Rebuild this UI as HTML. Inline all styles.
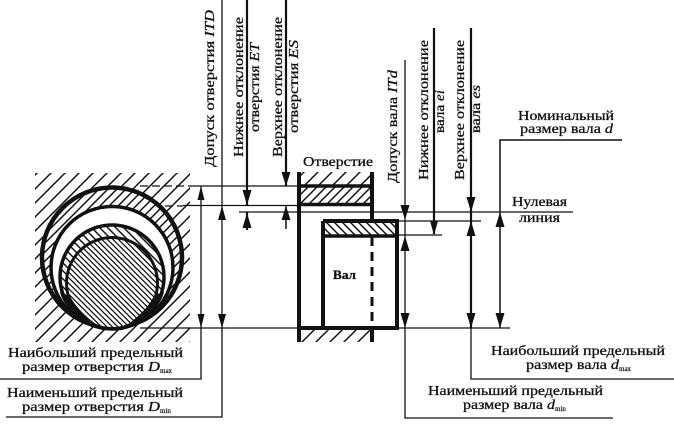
<!DOCTYPE html>
<html>
<head>
<meta charset="utf-8">
<style>
html,body{margin:0;padding:0;background:#fff;width:674px;height:425px;overflow:hidden}
svg{display:block}
text{font-family:"Liberation Serif","DejaVu Serif",serif;font-size:14px;fill:#111;stroke:#111;stroke-width:.3}
.i{font-style:italic}
.s{font-size:7px;stroke-width:.2}
</style>
</head>
<body>
<svg width="674" height="425" viewBox="0 0 674 425" xmlns="http://www.w3.org/2000/svg">
<defs>
<pattern id="h1" width="14" height="14" patternUnits="userSpaceOnUse"><path d="M0 14L14 0M-2 2L2 -2M12 16L16 12" stroke="#111" stroke-width="1.500"/></pattern>
<pattern id="h2" width="9" height="9" patternUnits="userSpaceOnUse"><path d="M0 9L9 0M-2 2L2 -2M7 11L11 7" stroke="#111" stroke-width="1.500"/></pattern>
<pattern id="b1" width="8" height="8" patternUnits="userSpaceOnUse"><path d="M0 0L8 8M-2 6L2 10M6 -2L10 2" stroke="#111" stroke-width="1.500"/></pattern>
<pattern id="b2" width="5.500" height="5.500" patternUnits="userSpaceOnUse"><path d="M0 0L5.500 5.500M-2 3.500L2 7.500M3.500 -2L7.500 2" stroke="#111" stroke-width="1.300"/></pattern>
</defs>

<!-- left circles -->
<rect x="35" y="173" width="155" height="169" fill="url(#h1)"/>
<circle cx="112" cy="257.5" r="70" fill="#fff"/>
<circle cx="112" cy="257.5" r="70" fill="url(#h2)" stroke="#111" stroke-width="4.500"/>
<circle cx="112" cy="267.5" r="61" fill="#fff" stroke="#111" stroke-width="3.500"/>
<circle cx="112" cy="277" r="52" fill="#fff"/>
<circle cx="112" cy="277" r="52" fill="url(#b1)" stroke="#111" stroke-width="3.500"/>
<circle cx="112" cy="283" r="45.5" fill="#fff"/>
<circle cx="112" cy="283" r="45.5" fill="url(#b2)" stroke="#111" stroke-width="3"/>
<path d="M60 292Q64 312 100 327Q78 312 70 296ZM164 292Q160 312 124 327Q146 312 154 296Z" fill="#111"/>

<!-- hole and shaft section -->
<rect x="299" y="172" width="73" height="170" fill="#fff"/>
<rect x="299" y="172" width="73" height="14" fill="url(#h1)"/>
<rect x="299" y="186" width="73" height="18" fill="url(#h2)"/>
<rect x="299" y="329" width="73" height="13" fill="url(#h1)"/>
<rect x="323" y="221" width="74" height="15" fill="url(#b1)"/>
<g stroke="#111" fill="none">
<path d="M299 172V342M372 172V221" stroke-width="4"/>
<path d="M372 237V328" stroke-width="3" stroke-dasharray="9 6"/>
<path d="M372 328V342" stroke-width="4"/>
<path d="M299 186H372M299 204.500H372" stroke-width="3.500"/>
<path d="M323 221H397V328H299M323 221V328" stroke-width="4"/>
<path d="M323 236H397" stroke-width="3.500"/>
</g>

<!-- thin dimension lines -->
<g stroke="#111" fill="none" stroke-width="1.300">
<path d="M140 186H190" stroke-dasharray="8 4"/>
<path d="M165 206H183" stroke-dasharray="8 4"/>
<path d="M190 186H299M183 205.500H299M239 212H573"/>
<path d="M140 328H299M397 221H481M397 235H442M397 328H510"/>
<path d="M201 186V379H0"/>
<path d="M222 0V417H6"/>
<path d="M405 60V418H613"/>
<path d="M500 328V140H622" stroke-width="1.500"/>
<path d="M471 328V379H674"/>
</g>
<g stroke="#111" fill="none" stroke-width="2.200">
<path d="M247 0V206M247 212V230"/>
<path d="M286 0V186"/>
<path d="M434 28V234"/>
<path d="M471 28V328"/>
</g>
<path d="M286 206V229" stroke="#111" stroke-width="1.500"/>

<!-- arrowheads -->
<g fill="#111">
<path d="M201 186l-3.500 14h7zM201 328l-3.500 -14h7z"/>
<path d="M222 206l-4 14h8zM222 328l-4 -14h8z"/>
<path d="M247 205l-4.500 -15h9zM247 213l-4.500 15h9z"/>
<path d="M286 186l-4.500 -14h9zM286 206l-4.500 14h9z"/>
<path d="M405 220l-4.500 -15h9zM405 236l-4.500 15h9zM405 328l-4.500 -15h9z"/>
<path d="M434 235l-4 -14h8z"/>
<path d="M471 212l-4.500 -15h9zM471 221l-4.500 15h9zM471 328l-4.500 -15h9z"/>
<path d="M500 212l-4.500 15h9zM500 328l-4.500 -15h9z"/>
</g>

<!-- vertical labels -->
<text transform="translate(214,167) rotate(-90)" textLength="157" lengthAdjust="spacingAndGlyphs">Допуск отверстия <tspan class="i">ITD</tspan></text>
<text transform="translate(243,157) rotate(-90)" textLength="140" lengthAdjust="spacingAndGlyphs">Нижнее отклонение</text>
<text transform="translate(259,132) rotate(-90)" textLength="89" lengthAdjust="spacingAndGlyphs">отверстия <tspan class="i">ET</tspan></text>
<text transform="translate(282,157) rotate(-90)" textLength="140" lengthAdjust="spacingAndGlyphs">Верхнее отклонение</text>
<text transform="translate(298,133) rotate(-90)" textLength="93" lengthAdjust="spacingAndGlyphs">отверстия <tspan class="i">ES</tspan></text>
<text transform="translate(397,183) rotate(-90)" textLength="113" lengthAdjust="spacingAndGlyphs">Допуск вала <tspan class="i">ITd</tspan></text>
<text transform="translate(428,180) rotate(-90)" textLength="140" lengthAdjust="spacingAndGlyphs">Нижнее отклонение</text>
<text transform="translate(444,133) rotate(-90)" textLength="43" lengthAdjust="spacingAndGlyphs">вала <tspan class="i">ei</tspan></text>
<text transform="translate(464,180) rotate(-90)" textLength="140" lengthAdjust="spacingAndGlyphs">Верхнее отклонение</text>
<text transform="translate(480,133) rotate(-90)" textLength="48" lengthAdjust="spacingAndGlyphs">вала <tspan class="i">es</tspan></text>

<!-- horizontal labels -->
<text x="303" y="166" textLength="70" lengthAdjust="spacingAndGlyphs">Отверстие</text>
<text x="333" y="279" textLength="23" style="font-weight:bold;font-size:13px" lengthAdjust="spacingAndGlyphs">Вал</text>
<text x="512" y="206" textLength="55" lengthAdjust="spacingAndGlyphs">Нулевая</text>
<text x="519" y="222" textLength="41" lengthAdjust="spacingAndGlyphs">линия</text>
<text x="518" y="120" textLength="96" lengthAdjust="spacingAndGlyphs">Номинальный</text>
<text x="520" y="133" textLength="93" lengthAdjust="spacingAndGlyphs">размер вала <tspan class="i">d</tspan></text>
<text x="8" y="357" textLength="175" lengthAdjust="spacingAndGlyphs">Наибольший предельный</text>
<text x="22" y="371" textLength="138" lengthAdjust="spacingAndGlyphs">размер отверстия <tspan class="i">D</tspan></text><text x="160" y="373" class="s">max</text>
<text x="7" y="397" textLength="176" lengthAdjust="spacingAndGlyphs">Наименьший предельный</text>
<text x="22" y="411" textLength="138" lengthAdjust="spacingAndGlyphs">размер отверстия <tspan class="i">D</tspan></text><text x="160" y="413" class="s">min</text>
<text x="491" y="355" textLength="174" lengthAdjust="spacingAndGlyphs">Наибольший предельный</text>
<text x="526" y="369" textLength="93" lengthAdjust="spacingAndGlyphs">размер вала <tspan class="i">d</tspan></text><text x="619" y="371" class="s">max</text>
<text x="428" y="395" textLength="175" lengthAdjust="spacingAndGlyphs">Наименьший предельный</text>
<text x="463" y="409" textLength="92" lengthAdjust="spacingAndGlyphs">размер вала <tspan class="i">d</tspan></text><text x="555" y="411" class="s">min</text>
</svg>
</body>
</html>
